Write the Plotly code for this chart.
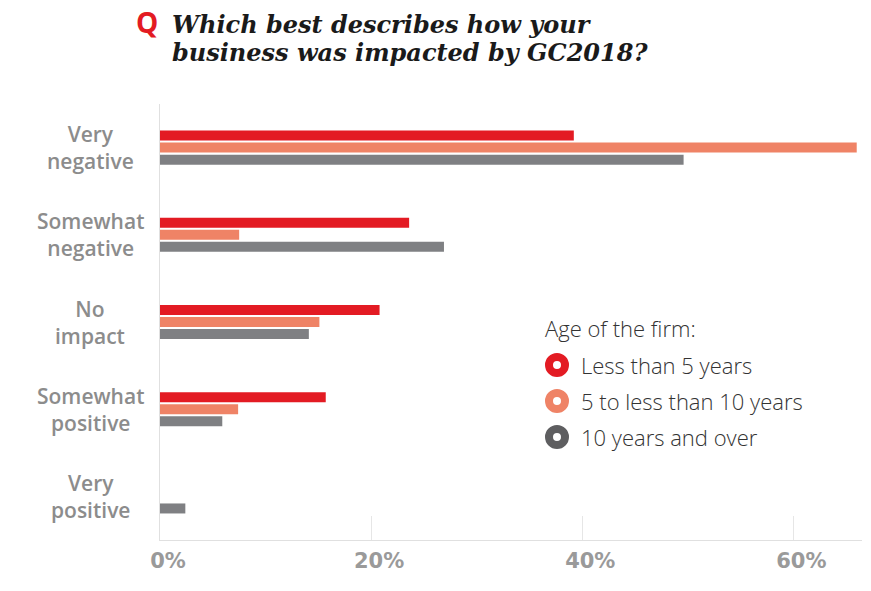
import plotly.graph_objects as go

# Survey responses: share of firms (%) by impact category and firm age
categories = ["Very negative", "Somewhat negative", "No impact", "Somewhat positive", "Very positive"]
category_labels = ["Very<br>negative", "Somewhat<br>negative", "No<br>impact",
                   "Somewhat<br>positive", "Very<br>positive"]
less_than_5 = [39.2, 23.6, 20.8, 15.7, 0]
five_to_10 = [66.0, 7.5, 15.1, 7.4, 0]
ten_and_over = [49.6, 26.9, 14.1, 5.9, 2.4]

series_names = ["Less than 5 years", "5 to less than 10 years", "10 years and over"]
bar_colors = ["#e31b23", "#ef8366", "#7f8083"]
legend_colors = ["#e31b23", "#ef8366", "#5e5e60"]
x_ticks = [0, 20, 40, 60]
x_tick_labels = ["0%", "20%", "40%", "60%"]

W, H = 871, 591
L, R, T, B = 160, 9, 104, 51
PW, PH = W - L - R, H - T - B


def px(x):
    return (x - L) / PW


def py(y):
    return (H - B - y) / PH


fig = go.Figure()
for name, vals, col in zip(series_names, [less_than_5, five_to_10, ten_and_over], bar_colors):
    fig.add_trace(go.Bar(
        y=categories, x=vals, name=name, orientation="h",
        marker=dict(color=col, line=dict(width=0)), showlegend=False,
    ))

label_font = dict(family="Open Sans", size=21, color="#8c8c8c", weight=600)

annotations = []
# Two-line category labels, centred to the left of the plot
for cat, lab in zip(categories, category_labels):
    annotations.append(dict(
        x=px(90), xref="paper", y=cat, yref="y", text=lab, showarrow=False,
        xanchor="center", yanchor="middle", align="center", font=label_font,
    ))

# Question heading
annotations.append(dict(
    x=px(134), xref="paper", y=py(22), yref="paper", text="<b>Q</b>", showarrow=False,
    xanchor="left", yanchor="middle",
    font=dict(family="Open Sans", size=28, color="#e31b23"),
))
title_font = dict(family="DejaVu Serif", size=24, color="#1a1a1a")
for text, yc in (("Which best describes how your", 25),
                 ("business was impacted by GC2018?", 53)):
    annotations.append(dict(
        x=px(170), xref="paper", y=py(yc), yref="paper",
        text=f"<b><i>{text}</i></b>", showarrow=False,
        xanchor="left", yanchor="middle", font=title_font,
    ))

# Legend block
legend_font = dict(family="Open Sans", size=22, color="#333333", weight=300)
annotations.append(dict(
    x=px(543), xref="paper", y=py(328), yref="paper", text="Age of the firm:",
    showarrow=False, xanchor="left", yanchor="middle", font=legend_font,
))
shapes = []
for i, (name, col) in enumerate(zip(series_names, legend_colors)):
    yc = 365 + 36 * i
    annotations.append(dict(
        x=px(579), xref="paper", y=py(yc), yref="paper", text=name,
        showarrow=False, xanchor="left", yanchor="middle", font=legend_font,
    ))
    shapes.append(dict(
        type="circle", xref="paper", yref="paper",
        xsizemode="pixel", ysizemode="pixel",
        xanchor=px(557), yanchor=py(yc),
        x0=-8, x1=8, y0=-8, y1=8,
        line=dict(color=col, width=8), fillcolor="white",
    ))

fig.update_layout(
    width=W, height=H,
    margin=dict(l=L, r=R, t=T, b=B),
    paper_bgcolor="white", plot_bgcolor="white",
    barmode="group", bargap=0.585, bargroupgap=0.17,
    annotations=annotations, shapes=shapes,
    xaxis=dict(
        range=[0, 66.5], tickvals=x_ticks, ticktext=x_tick_labels,
        showgrid=False, zeroline=False,
        showline=True, linecolor="#e0e0e0", linewidth=1,
        ticks="inside", ticklen=24, tickcolor="#e6e6e6", tickwidth=1,
        ticklabelshift=8, ticklabelstandoff=2,
        tickfont=dict(family="DejaVu Sans", size=21, color="#9a9a9a", weight=600),
        fixedrange=True,
    ),
    yaxis=dict(
        categoryorder="array", categoryarray=categories,
        range=[4.5, -0.5], showticklabels=False, ticks="",
        showgrid=False, zeroline=False,
        showline=True, linecolor="#e0e0e0", linewidth=1,
        fixedrange=True,
    ),
)

fig.write_html("out.html")
